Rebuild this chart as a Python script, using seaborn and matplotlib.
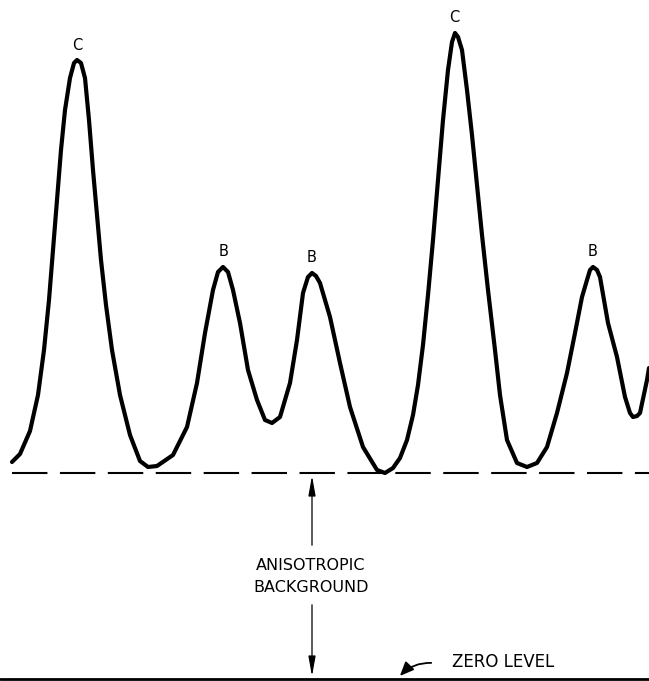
import numpy as np
import pandas as pd
import matplotlib
matplotlib.use("Agg")
import matplotlib.pyplot as plt
import seaborn as sns

# Trace of the recorded curve: horizontal position and recorder height (pixel rows from top)
position = [12, 20, 30, 38, 44, 49, 53, 57, 61, 65, 70, 74, 77, 81, 85, 89, 93, 97, 101, 106, 112, 120, 130,
            140, 148, 157, 173, 187, 197, 205, 213, 218, 223, 228, 233, 240, 248, 257, 265, 272, 280, 290,
            297, 303, 308, 312, 316, 320, 330, 340, 350, 363, 377, 385, 393, 400, 407, 413, 418, 423, 428,
            433, 438, 443, 448, 452, 455, 458, 462, 467, 472, 477, 482, 488, 495, 500, 507, 517, 527, 537,
            547, 557, 567, 575, 582, 587, 590, 593, 597, 600, 608, 617, 625, 630, 633, 637, 640, 647, 649]
ypix = [462, 454, 431, 395, 350, 300, 250, 200, 150, 110, 78, 63, 60, 63, 78, 120, 170, 215, 260, 305, 350, 395, 435,
        461, 467, 466, 455, 427, 383, 333, 290, 272, 267, 272, 290, 323, 370, 400, 420, 423, 417, 383,
        340, 293, 277, 273, 276, 283, 317, 363, 407, 447, 470, 473, 468, 458, 440, 415, 385, 345, 295,
        240, 180, 120, 70, 42, 33, 37, 50, 90, 135, 185, 235, 290, 350, 395, 440, 463, 467, 463,
        447, 413, 373, 333, 297, 280, 270, 267, 270, 277, 323, 357, 397, 413, 417, 416, 413, 380, 368]
ZERO = 679
intensity = [ZERO - v for v in ypix]

peak_labels = ["C", "B", "B", "C", "B"]
peak_x = [77, 224, 312, 454, 593]
peak_y = [ZERO - 45, ZERO - 252, ZERO - 257, ZERO - 18, ZERO - 252]

background_level = ZERO - 473
zero_level = 0

df = pd.DataFrame({"position": position, "intensity": intensity})

sns.set_style("white")
fig = plt.figure(figsize=(6.49, 6.81), dpi=100)
ax = fig.add_axes([0, 0, 1, 1])
sns.lineplot(data=df, x="position", y="intensity", ax=ax, color="black", linewidth=3.0,
             sort=False, estimator=None)
for l in ax.lines:
    l.set_solid_joinstyle("round")
    l.set_solid_capstyle("round")
ax.set_xlim(0, 649)
ax.set_ylim(ZERO - 681, ZERO)
ax.axis("off")

# dashed background level
ax.plot([12, 649], [background_level, background_level], color="black", linewidth=1.5,
        dashes=(17, 6))
# zero level
ax.plot([0, 649], [zero_level, zero_level], color="black", linewidth=2.0)

for lab, x, y in zip(peak_labels, peak_x, peak_y):
    ax.text(x, y, lab, ha="center", va="center", fontsize=10.5, color="black",
            family="DejaVu Sans")

# double arrow for anisotropic background
arrow_style = "-|>,head_length=1.0,head_width=0.18"
ax.annotate("", xy=(312, background_level), xytext=(312, ZERO - 548),
            arrowprops=dict(arrowstyle=arrow_style, color="black", lw=0.9, mutation_scale=12))
ax.annotate("", xy=(312, zero_level), xytext=(312, ZERO - 602),
            arrowprops=dict(arrowstyle=arrow_style, color="black", lw=0.9, mutation_scale=12))
ax.text(311, ZERO - 576.5, "ANISOTROPIC\nBACKGROUND", ha="center", va="center", fontsize=11.5,
        linespacing=1.6, color="black", family="DejaVu Sans")

# zero level label
ax.text(503, ZERO - 662, "ZERO LEVEL", ha="center", va="center", fontsize=12, color="black",
        family="DejaVu Sans")
ax.annotate("", xy=(398, zero_level + 1), xytext=(434, ZERO - 663),
            arrowprops=dict(arrowstyle="-|>,head_length=0.7,head_width=0.3", color="black", lw=1.3,
                            mutation_scale=12, connectionstyle="arc3,rad=0.25"))

fig.savefig("out.png", dpi=100)
